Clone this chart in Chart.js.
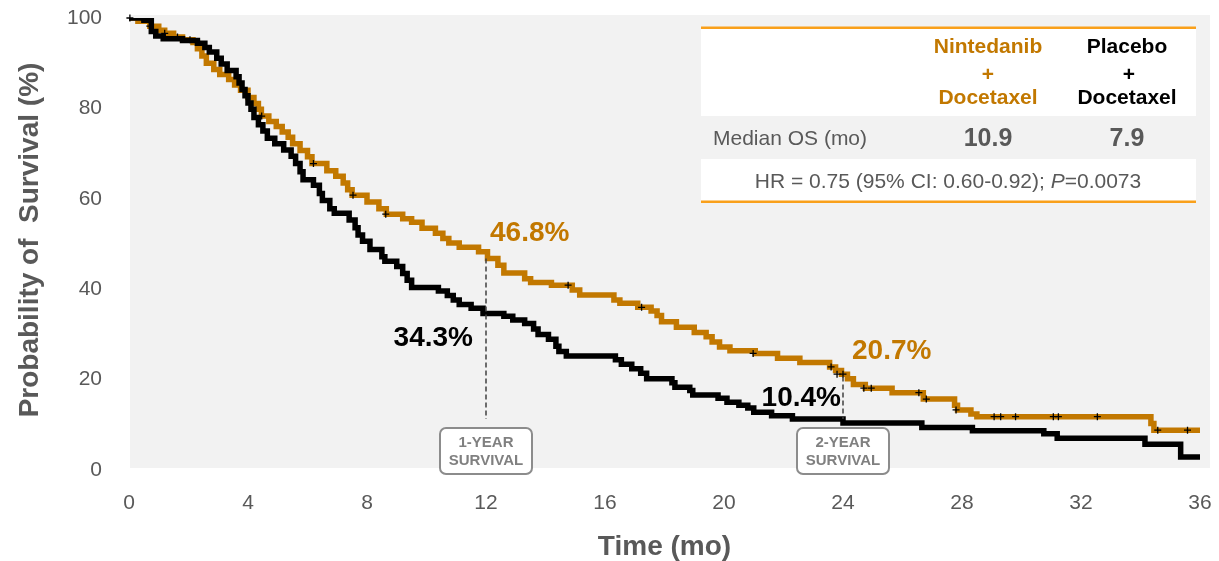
<!DOCTYPE html>
<html>
<head>
<meta charset="utf-8">
<script src="https://cdn.jsdelivr.net/npm/chart.js@4.4.0/dist/chart.umd.min.js"></script>
<style>
html, body { margin: 0; padding: 0; background: #fff; }
#wrap { width: 1219px; height: 561px; position: relative; }
</style>
</head>
<body>
<div id="wrap"><canvas id="km"></canvas></div>
<script>
// Kaplan-Meier steps (months, % surviving)
const nintTime = [0, 0.3, 0.7, 1.0, 1.2, 1.5, 1.8, 2.15, 2.3, 2.45, 2.6, 2.85, 3.05, 3.35, 3.55, 3.75, 4.0, 4.2, 4.35, 4.45, 4.7, 4.95, 5.15, 5.35, 5.5, 5.75, 6.0, 6.15, 6.65, 6.95, 7.2, 7.35, 7.5, 8.0, 8.4, 8.65, 9.2, 9.5, 9.85, 10.3, 10.55, 10.75, 11.1, 11.75, 12.05, 12.4, 12.6, 13.3, 13.5, 14.2, 14.9, 15.15, 16.3, 16.5, 17.1, 17.55, 17.75, 17.9, 18.4, 19.0, 19.4, 19.6, 19.85, 20.2, 21.05, 21.8, 22.55, 23.55, 23.75, 23.95, 24.15, 24.35, 24.75, 25.65, 26.7, 27.75, 27.85, 28.3, 28.5, 34.35, 34.45, 36.0];
const nintSurv = [100, 99.3, 98.2, 97.3, 96.6, 95.8, 95.2, 94.6, 93.2, 91.6, 90.0, 88.6, 87.5, 86.4, 85.2, 84.0, 82.4, 81.1, 79.8, 78.3, 77.1, 76.0, 74.8, 73.6, 72.2, 70.7, 69.3, 67.8, 66.2, 65.0, 63.5, 62.0, 60.8, 59.3, 57.8, 56.6, 55.6, 54.8, 53.5, 52.4, 51.2, 50.2, 49.3, 48.3, 46.8, 45.3, 43.6, 42.3, 41.5, 40.9, 39.8, 38.7, 37.6, 36.9, 36.0, 35.2, 34.2, 32.8, 31.6, 30.4, 29.5, 28.3, 27.2, 26.4, 25.8, 24.7, 23.8, 22.8, 22.0, 21.2, 20.2, 18.9, 18.1, 17.1, 15.7, 14.3, 13.3, 12.4, 11.8, 10.3, 8.8, 8.8];

const placTime = [0, 0.5, 0.75, 0.9, 1.15, 1.8, 2.3, 2.55, 2.7, 2.95, 3.1, 3.3, 3.6, 3.7, 3.8, 3.9, 4.0, 4.1, 4.2, 4.35, 4.5, 4.65, 4.9, 5.2, 5.45, 5.6, 5.75, 5.85, 6.2, 6.4, 6.5, 6.75, 6.9, 7.4, 7.6, 7.7, 7.85, 8.1, 8.5, 8.6, 9.0, 9.2, 9.35, 9.5, 10.4, 10.7, 10.9, 11.1, 11.5, 11.9, 12.6, 12.9, 13.3, 13.6, 13.75, 14.1, 14.35, 14.45, 14.7, 16.35, 16.55, 16.9, 17.2, 17.4, 18.25, 18.35, 18.85, 18.95, 19.8, 20.1, 20.5, 20.8, 21.0, 21.6, 22.3, 24.0, 26.65, 28.35, 30.75, 31.2, 34.15, 35.35, 36.0];
const placSurv = [100, 99.5, 97.0, 96.0, 95.4, 95.0, 94.4, 93.5, 92.5, 91.1, 89.8, 88.4, 87.0, 85.6, 84.2, 82.8, 81.2, 79.8, 78.0, 76.4, 75.0, 73.4, 72.2, 70.8, 69.4, 67.8, 66.0, 64.2, 63.0, 61.2, 59.6, 57.8, 56.8, 55.3, 53.6, 52.0, 50.6, 48.8, 47.2, 46.2, 45.0, 43.5, 42.0, 40.4, 39.6, 38.6, 37.6, 36.6, 35.8, 34.6, 34.0, 33.2, 32.4, 31.2, 30.0, 28.9, 27.4, 26.2, 25.2, 24.4, 23.4, 22.4, 21.4, 20.2, 19.3, 18.3, 17.6, 16.6, 15.9, 15.0, 14.3, 13.7, 12.8, 12.0, 11.3, 10.4, 9.4, 8.7, 8.0, 7.0, 5.7, 2.9, 2.9];

// censored observations (+)
const censorTime = [0.03, 0.7, 1.2, 1.63, 2.05, 4.46, 6.2, 7.53, 8.63, 14.76, 17.23, 20.98, 23.6, 23.8, 24.0, 24.7, 24.95, 26.55, 26.8, 27.8, 29.08, 29.3, 29.8, 31.07, 31.24, 32.55, 34.58, 35.58];
const censorSurv = [100, 98.2, 96.6, 95.8, 95.2, 78.3, 67.8, 60.8, 56.6, 40.9, 36.0, 25.8, 22.8, 21.2, 21.2, 18.1, 18.1, 17.1, 15.7, 13.3, 11.8, 11.8, 11.8, 11.8, 11.8, 11.8, 8.8, 8.8];

const xTicks = [0, 4, 8, 12, 16, 20, 24, 28, 32, 36];
const yTicks = [0, 20, 40, 60, 80, 100];

// landmark survival rates
const landmarkMonth = [12, 24];
const landmarkLabel = ['1-YEAR', '2-YEAR'];
const landmarkNint = [46.8, 20.7];
const landmarkPlac = [34.3, 10.4];

const medianNint = '10.9';
const medianPlac = '7.9';

const FONT = '"Liberation Sans", Arial, sans-serif';
const GREY = '#595959';
const ORANGE = '#c27800';
const TABLE_LINE = '#f9a01b';

const pts = (t, s) => t.map((v, i) => ({ x: v, y: s[i] }));

function roundBox(ctx, x, y, w, h, r) {
    ctx.beginPath();
    ctx.moveTo(x + r, y);
    ctx.lineTo(x + w - r, y);
    ctx.arcTo(x + w, y, x + w, y + r, r);
    ctx.lineTo(x + w, y + h - r);
    ctx.arcTo(x + w, y + h, x + w - r, y + h, r);
    ctx.lineTo(x + r, y + h);
    ctx.arcTo(x, y + h, x, y + h - r, r);
    ctx.lineTo(x, y + r);
    ctx.arcTo(x, y, x + r, y, r);
    ctx.closePath();
}

// no automatic label padding, the plot box is fixed by layout.padding
const noPad = (s) => { s.paddingTop = 0; s.paddingBottom = 0; s.paddingLeft = 0; s.paddingRight = 0; };

const decor = {
    id: 'decor',
    beforeDraw: (chart) => {
        const ctx = chart.ctx, a = chart.chartArea;
        ctx.save();
        ctx.fillStyle = '#fff';
        ctx.fillRect(0, 0, chart.width, chart.height);
        ctx.fillStyle = '#f2f2f2';
        ctx.fillRect(a.left + 1, a.top - 3, a.right - a.left + 9, a.bottom - a.top + 1);
        ctx.restore();
    },
    afterDatasetsDraw: (chart) => {
        const ctx = chart.ctx;
        const xs = chart.scales.x, ys = chart.scales.y;
        ctx.save();
        for (let i = 0; i < landmarkMonth.length; i++) {
            const px = xs.getPixelForValue(landmarkMonth[i]);
            const topY = ys.getPixelForValue(landmarkNint[i]);
            const boxTop = 428;

            ctx.strokeStyle = '#404040';
            ctx.lineWidth = 1.5;
            ctx.setLineDash([5, 3]);
            ctx.beginPath();
            ctx.moveTo(px, topY);
            ctx.lineTo(px, 419);
            ctx.stroke();
            ctx.setLineDash([]);

            roundBox(ctx, px - 46, boxTop, 92, 46, 6);
            ctx.fillStyle = '#fff';
            ctx.fill();
            ctx.strokeStyle = '#8c8c8c';
            ctx.lineWidth = 2;
            ctx.stroke();
            ctx.fillStyle = '#808080';
            ctx.font = 'bold 15px ' + FONT;
            ctx.textAlign = 'center';
            ctx.textBaseline = 'middle';
            ctx.fillText(landmarkLabel[i], px, boxTop + 15);
            ctx.fillText('SURVIVAL', px, boxTop + 33);

            ctx.font = 'bold 28px ' + FONT;
            ctx.fillStyle = ORANGE;
            ctx.textAlign = 'left';
            ctx.fillText(landmarkNint[i].toFixed(1) + '%', px + (i === 0 ? 4 : 9), topY - 25);
            ctx.fillStyle = '#000';
            ctx.textAlign = 'right';
            const py = ys.getPixelForValue(landmarkPlac[i]);
            const off = i === 0 ? 23 : -25;
            ctx.fillText(landmarkPlac[i].toFixed(1) + '%', px - (i === 0 ? 13 : 2), py + off);
        }
        ctx.restore();
    },
    afterDraw: (chart) => {
        const ctx = chart.ctx, a = chart.chartArea;
        ctx.save();
        // axis titles
        ctx.fillStyle = GREY;
        ctx.font = 'bold 28px ' + FONT;
        ctx.textAlign = 'center';
        ctx.textBaseline = 'middle';
        ctx.fillText('Time (mo)', (a.left + a.right) / 2, 547);
        ctx.translate(30, 240);
        ctx.rotate(-Math.PI / 2);
        ctx.fillText('Probability of  Survival (%)', 0, 0);
        ctx.setTransform(1, 0, 0, 1, 0, 0);

        // results table
        const L = 701, R = 1196, c1 = 988, c2 = 1127;
        ctx.fillStyle = '#fff';
        ctx.fillRect(L, 28, R - L, 88);
        ctx.fillRect(L, 159, R - L, 42);
        ctx.fillStyle = TABLE_LINE;
        ctx.fillRect(L, 26.5, R - L, 2.5);
        ctx.fillRect(L, 200.5, R - L, 2.5);

        ctx.font = 'bold 21px ' + FONT;
        ctx.fillStyle = ORANGE;
        ctx.fillText('Nintedanib', c1, 47);
        ctx.fillText('+', c1, 75);
        ctx.fillText('Docetaxel', c1, 98);
        ctx.fillStyle = '#000';
        ctx.fillText('Placebo', c2, 47);
        ctx.fillText('+', c2 + 2, 75);
        ctx.fillText('Docetaxel', c2, 98);

        ctx.fillStyle = GREY;
        ctx.font = '21px ' + FONT;
        ctx.textAlign = 'left';
        ctx.fillText('Median OS (mo)', 713, 139);
        ctx.textAlign = 'center';
        ctx.font = 'bold 25px ' + FONT;
        ctx.fillText(medianNint, c1, 139);
        ctx.fillText(medianPlac, c2, 139);

        const s1 = 'HR = 0.75 (95% CI: 0.60-0.92); ', s2 = 'P', s3 = '=0.0073';
        ctx.font = '21px ' + FONT;
        const w1 = ctx.measureText(s1).width, w3 = ctx.measureText(s3).width;
        ctx.font = 'italic 21px ' + FONT;
        const w2 = ctx.measureText(s2).width;
        let x = 948 - (w1 + w2 + w3) / 2;
        ctx.textAlign = 'left';
        ctx.font = '21px ' + FONT;
        ctx.fillText(s1, x, 182);
        ctx.font = 'italic 21px ' + FONT;
        ctx.fillText(s2, x + w1, 182);
        ctx.font = '21px ' + FONT;
        ctx.fillText(s3, x + w1 + w2, 182);
        ctx.restore();
    }
};

const ctx = document.getElementById('km').getContext('2d');
new Chart(ctx, {
    type: 'line',
    plugins: [decor],
    data: {
        datasets: [{
            label: 'Censored',
            data: pts(censorTime, censorSurv),
            showLine: false,
            pointStyle: 'cross',
            pointRadius: 3.5,
            pointBorderWidth: 1.3,
            pointBorderColor: '#000',
            borderColor: '#000',
            clip: false
        }, {
            label: 'Placebo + Docetaxel',
            data: pts(placTime, placSurv),
            stepped: true,
            borderColor: '#000',
            borderWidth: 5.5,
            borderJoinStyle: 'miter',
            pointRadius: 0,
            fill: false
        }, {
            label: 'Nintedanib + Docetaxel',
            data: pts(nintTime, nintSurv),
            stepped: true,
            borderColor: ORANGE,
            borderWidth: 5.5,
            borderJoinStyle: 'miter',
            pointRadius: 0,
            fill: false
        }]
    },
    options: {
        responsive: true,
        maintainAspectRatio: false,
        animation: false,
        layout: { padding: { top: 18, right: 19, left: 0, bottom: 0 } },
        plugins: { legend: { display: false }, tooltip: { enabled: false } },
        scales: {
            x: {
                type: 'linear',
                min: 0,
                max: 36,
                afterBuildTicks: (s) => { s.ticks = xTicks.map(v => ({ value: v })); },
                afterFit: (s) => { s.height = 91; noPad(s); },
                grid: { display: false, drawTicks: false },
                border: { display: false },
                ticks: { color: GREY, font: { family: FONT, size: 21 }, padding: 21, maxRotation: 0 }
            },
            y: {
                min: 0,
                max: 100,
                afterBuildTicks: (s) => { s.ticks = yTicks.map(v => ({ value: v })); },
                afterFit: (s) => { s.width = 129; noPad(s); },
                grid: { display: false, drawTicks: false },
                border: { display: false },
                ticks: { color: GREY, font: { family: FONT, size: 21 }, padding: 27 }
            }
        }
    }
});
</script>
</body>
</html>
